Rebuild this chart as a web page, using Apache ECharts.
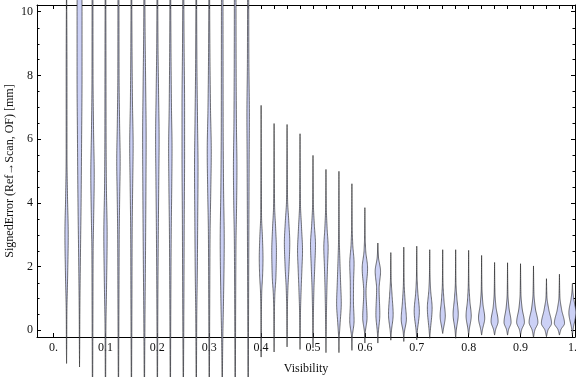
<!DOCTYPE html>
<html><head><meta charset="utf-8">
<script src="https://cdn.jsdelivr.net/npm/echarts@6/dist/echarts.min.js"></script>
<style>html,body{margin:0;padding:0;background:#fff}#c{width:576px;height:377px}</style>
</head><body><div id="c"></div>
<script>
// Category positions (Visibility)
const visibility = [0.025,0.05,0.075,0.1,0.125,0.15,0.175,0.2,0.225,0.25,0.275,0.3,0.325,0.35,0.375,0.4,
  0.425,0.45,0.475,0.5,0.525,0.55,0.575,0.6,0.625,0.65,0.675,0.7,0.725,0.75,0.775,0.8,0.825,0.85,0.875,0.9,0.925,0.95,0.975,1.0];
// Violin outlines: [signed error (mm), half-width of density (x units)], from lower tip to upper tip
const violinProfiles = [
 [[-1.04,0],[-0.6,0.0003],[0.5,0.0006],[1.8,0.0022],[3.0,0.0032],[4.2,0.0018],[5.5,0.0008],[8,0.0008],[11.5,0]],
 [[-1.15,0],[-0.6,0.0003],[0.5,0.0006],[2.0,0.0015],[4.0,0.003],[6.0,0.004],[8.0,0.0048],[10.0,0.0048],[12.5,0.002],[14,0]],
 [[-3,0],[-1.5,0.0004],[0.5,0.0008],[2.5,0.0012],[3.5,0.0022],[4.9,0.0033],[6.3,0.002],[8,0.001],[11,0.0008],[14,0]],
 [[-3,0],[-1.5,0.0004],[0,0.0008],[1.5,0.0022],[3,0.0032],[4.5,0.0018],[6,0.0012],[9,0.0009],[14,0]],
 [[-3,0],[-1.5,0.0004],[1,0.001],[3,0.0015],[4.2,0.0024],[5.3,0.0033],[6.5,0.0022],[8,0.0012],[11,0.0009],[14,0]],
 [[-3,0],[-1.5,0.0004],[1,0.001],[3,0.0014],[4.6,0.0025],[5.8,0.0033],[7.2,0.002],[9,0.0011],[14,0]],
 [[-3,0],[-1.5,0.0004],[0.5,0.0012],[2.5,0.0022],[4.5,0.003],[6,0.0034],[7.8,0.0024],[9.5,0.0013],[14,0]],
 [[-3,0],[-1.5,0.0004],[1,0.001],[3,0.0018],[4.8,0.0028],[6,0.0034],[7.4,0.0024],[9,0.0012],[14,0]],
 [[-3,0],[-1.5,0.0004],[1,0.001],[3,0.0017],[4.6,0.0028],[5.7,0.0033],[7,0.0022],[9,0.0012],[14,0]],
 [[-3,0],[-1.5,0.0004],[1,0.0012],[3.5,0.0018],[5.5,0.0025],[7,0.0025],[9,0.0015],[14,0]],
 [[-3,0],[-1.5,0.0004],[0.5,0.001],[1.8,0.002],[3.5,0.0028],[5.1,0.0034],[6.6,0.0024],[8.5,0.0012],[14,0]],
 [[-3,0],[-1.5,0.0004],[1,0.001],[3,0.0016],[4.4,0.003],[5.6,0.0039],[7,0.0024],[9,0.0012],[14,0]],
 [[-3,0],[-1.5,0.0004],[-0.2,0.0012],[1,0.0026],[2.8,0.0039],[4.5,0.0026],[6.5,0.0018],[9,0.0016],[11,0.0014],[14,0]],
 [[-3,0],[-1.5,0.0004],[1,0.001],[2.8,0.0016],[4,0.0028],[5.1,0.0034],[6.5,0.0024],[8.5,0.0018],[11,0.0015],[14,0]],
 [[-3,0],[-1.5,0.0004],[1,0.0009],[3.5,0.0015],[5.5,0.002],[6.7,0.0024],[8.5,0.0014],[11,0.001],[14,0]],
 [[-0.84,0],[-0.4,0.0003],[0.5,0.0005],[1.2,0.0012],[1.7,0.0028],[2.25,0.0036],[2.9,0.0026],[3.6,0.0008],[5,0.0004],[7.06,0]],
 [[-0.68,0],[-0.3,0.0003],[0.5,0.0006],[1.1,0.0014],[1.7,0.0036],[2.5,0.0045],[3.2,0.003],[3.9,0.001],[5,0.0004],[6.49,0]],
 [[-0.52,0],[-0.2,0.0003],[0.6,0.0006],[1.3,0.0016],[2.0,0.0038],[2.75,0.0052],[3.4,0.0034],[4.1,0.001],[5.2,0.0004],[6.46,0]],
 [[-0.6,0],[-0.2,0.0003],[0.5,0.0008],[1.3,0.0022],[1.9,0.0036],[2.5,0.0048],[3.2,0.003],[4,0.0008],[5,0.0004],[6.17,0]],
 [[-0.55,0],[-0.2,0.0003],[0.5,0.0008],[1.3,0.0018],[2.0,0.0034],[2.7,0.0048],[3.3,0.0026],[4.0,0.0007],[5.49,0]],
 [[-0.7,0],[-0.25,0.0003],[0.5,0.0009],[1.3,0.0018],[2.0,0.003],[2.6,0.0042],[3.2,0.0022],[3.9,0.0006],[5.05,0]],
 [[-0.7,0],[-0.3,0.0004],[0.2,0.0022],[0.85,0.0045],[1.5,0.0032],[2.2,0.0018],[2.9,0.0007],[3.8,0.0004],[4.99,0]],
 [[-0.63,0],[-0.25,0.0005],[0.3,0.0042],[0.9,0.003],[1.5,0.0032],[2.1,0.0042],[2.7,0.0016],[3.3,0.0005],[4.6,0]],
 [[-0.4,0],[-0.1,0.0006],[0.4,0.0042],[1.2,0.0022],[1.95,0.0052],[2.5,0.0016],[3.0,0.0005],[3.85,0]],
 [[-0.4,0],[-0.1,0.0008],[0.5,0.0038],[1.3,0.0024],[1.85,0.0052],[2.3,0.0012],[2.74,0]],
 [[-0.31,0],[-0.05,0.001],[0.5,0.0045],[1.1,0.0024],[1.6,0.0007],[2.44,0]],
 [[-0.35,0],[-0.08,0.001],[0.35,0.005],[0.9,0.0026],[1.5,0.0007],[2.61,0]],
 [[-0.3,0],[-0.05,0.001],[0.6,0.005],[1.2,0.002],[1.7,0.0006],[2.64,0]],
 [[-0.25,0],[0,0.0012],[0.7,0.0046],[1.25,0.0018],[1.7,0.0006],[2.53,0]],
 [[-0.1,0],[0.05,0.0015],[0.45,0.005],[0.95,0.0024],[1.5,0.0006],[2.53,0]],
 [[-0.25,0],[0,0.0012],[0.5,0.005],[1.0,0.0024],[1.5,0.0006],[2.53,0]],
 [[-0.15,0],[0.05,0.0015],[0.45,0.005],[0.95,0.0022],[1.5,0.0006],[2.51,0]],
 [[-0.15,0],[0.03,0.0018],[0.38,0.006],[0.85,0.0024],[1.3,0.0007],[2.35,0]],
 [[-0.15,0],[0.02,0.002],[0.28,0.0068],[0.75,0.0026],[1.2,0.0007],[2.13,0]],
 [[-0.15,0],[0.02,0.002],[0.25,0.0068],[0.7,0.0028],[1.15,0.0007],[2.12,0]],
 [[-0.15,0],[0.02,0.0022],[0.25,0.0075],[0.7,0.003],[1.15,0.0008],[2.09,0]],
 [[-0.22,0],[0,0.0025],[0.25,0.0085],[0.7,0.0035],[1.15,0.0009],[2.02,0]],
 [[-0.2,0],[0,0.0028],[0.22,0.0098],[0.65,0.0045],[1.05,0.0009],[1.62,0]],
 [[-0.15,0],[0.02,0.0028],[0.22,0.0098],[0.65,0.0042],[1.05,0.0009],[1.76,0]],
 [[-0.15,0],[0.05,0.0015],[0.55,0.0068],[1.0,0.0025],[1.25,0.0007],[1.46,0]]
];
// Axis ticks
const xTickValues = [0,0.1,0.2,0.3,0.4,0.5,0.6,0.7,0.8,0.9,1.0];
const xTickLabels = ['0.','0.1','0.2','0.3','0.4','0.5','0.6','0.7','0.8','0.9','1.'];
const xTopTicks = [0].concat(visibility);
const yTickValues = [0,2,4,6,8,10];
const yMinorTicks = [0.5,1,1.5,2.5,3,3.5,4.5,5,5.5,6.5,7,7.5,8.5,9,9.5];

const FONT = "'Liberation Serif','Times New Roman',serif";
const X_MIN = -0.032, X_MAX = 1.005, Y_MIN = -0.21, Y_MAX = 10.21;

function monoTangents(k) {
  const n = k.length, d = [], m = [];
  for (let i = 0; i < n - 1; i++) d.push((k[i+1][1] - k[i][1]) / (k[i+1][0] - k[i][0]));
  m[0] = d[0]; m[n-1] = d[n-2];
  for (let i = 1; i < n - 1; i++) {
    m[i] = (d[i-1] * d[i] > 0) ? 2 * d[i-1] * d[i] / (d[i-1] + d[i]) : 0;
  }
  return m;
}

function renderViolin(params, api) {
  const x = api.value(0);
  const k = violinProfiles[api.value(1)];
  const m = monoTangents(k);
  const right = [], left = [];
  for (let i = 0; i < k.length - 1; i++) {
    const y0 = k[i][0], y1 = k[i+1][0], w0 = k[i][1], w1 = k[i+1][1], h = y1 - y0;
    const steps = 14;
    for (let s = 0; s < steps; s++) {
      const t = s / steps, t2 = t*t, t3 = t2*t;
      let w = (2*t3 - 3*t2 + 1) * w0 + (t3 - 2*t2 + t) * h * m[i] + (-2*t3 + 3*t2) * w1 + (t3 - t2) * h * m[i+1];
      if (w < 0) w = 0;
      const y = y0 + h * t;
      right.push(api.coord([x + w, y]));
      left.push(api.coord([x - w, y]));
    }
  }
  const last = k[k.length - 1];
  right.push(api.coord([x, last[0]]));
  const pts = right.concat(left.reverse());
  return {
    type: 'polygon',
    shape: { points: pts },
    style: { fill: 'rgb(204,209,246)', stroke: 'rgba(30,30,30,0.62)', lineWidth: 1 }
  };
}

// minor frame ticks on left and right sides (positions from the y scale)
function renderMinorTick(params, api) {
  const l = api.coord([X_MIN, api.value(0)]);
  const r = api.coord([X_MAX, api.value(0)]);
  const y = Math.round(l[1]) + 0.5;
  const st = { stroke: '#000', lineWidth: 1 };
  return { type: 'group', children: [
    { type: 'line', shape: { x1: l[0], y1: y, x2: l[0] + 2.5, y2: y }, style: st },
    { type: 'line', shape: { x1: r[0], y1: y, x2: r[0] - 2.5, y2: y }, style: st }
  ]};
}

const chart = echarts.init(document.getElementById('c'), null, { renderer: 'canvas' });
const tickLine = { color: '#000', width: 1 };
chart.setOption({
  animation: false,
  grid: { left: 37, right: 1, top: 5, bottom: 40, containLabel: false, outerBoundsMode: 'none' },
  xAxis: [
    { type: 'value', min: X_MIN, max: X_MAX, position: 'bottom',
      axisLine: { show: true, onZero: false, lineStyle: tickLine },
      axisTick: { show: true, inside: true, length: 4, customValues: xTickValues, lineStyle: tickLine },
      axisLabel: { customValues: xTickValues, margin: 5, color: '#111', fontFamily: FONT, fontSize: 12,
        formatter: function (v) { const i = xTickValues.findIndex(t => Math.abs(t - v) < 1e-9); return i >= 0 ? xTickLabels[i] : ''; } },
      splitLine: { show: false },
      name: 'Visibility', nameLocation: 'middle', nameGap: 26, nameMoveOverlap: false,
      nameTextStyle: { color: '#111', fontFamily: FONT, fontSize: 12 } },
    { type: 'value', min: X_MIN, max: X_MAX, position: 'top',
      axisLine: { show: true, onZero: false, lineStyle: tickLine },
      axisTick: { show: true, inside: true, length: 4, customValues: xTopTicks, lineStyle: tickLine },
      axisLabel: { show: false }, splitLine: { show: false } }
  ],
  yAxis: [
    { type: 'value', min: Y_MIN, max: Y_MAX, position: 'left',
      axisLine: { show: true, onZero: false, lineStyle: tickLine },
      axisTick: { show: true, inside: true, length: 4, customValues: yTickValues, lineStyle: tickLine },
      axisLabel: { customValues: yTickValues, margin: 4, color: '#111', fontFamily: FONT, fontSize: 12 },
      splitLine: { show: false },
      name: 'SignedError (Ref→Scan, OF) [mm]', nameLocation: 'middle', nameGap: 21, nameMoveOverlap: false,
      nameTextStyle: { color: '#111', fontFamily: FONT, fontSize: 12 } },
    { type: 'value', min: Y_MIN, max: Y_MAX, position: 'right',
      axisLine: { show: true, onZero: false, lineStyle: tickLine },
      axisTick: { show: true, inside: true, length: 4, customValues: yTickValues, lineStyle: tickLine },
      axisLabel: { show: false }, splitLine: { show: false } }
  ],
  series: [{
    type: 'custom',
    xAxisIndex: 0, yAxisIndex: 0,
    clip: false,
    renderItem: renderMinorTick,
    data: yMinorTicks.map(v => [v]),
    encode: { y: 0 },
    z: 1
  }, {
    type: 'custom',
    xAxisIndex: 0, yAxisIndex: 0,
    clip: false,
    renderItem: renderViolin,
    data: visibility.map((v, i) => [v, i]),
    z: 3
  }]
});
</script></body></html>
